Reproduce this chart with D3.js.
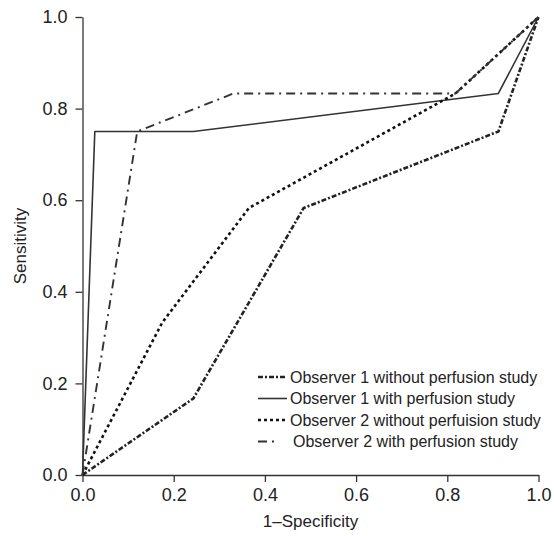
<!DOCTYPE html>
<meta charset="utf-8">
<head>
  <meta charset="utf-8">
  <title>ROC curves</title>
  <script src="https://d3js.org/d3.v7.min.js"></script>
  <style>
    body { margin: 0; background: #fff; }
    svg { display: block; font-family: "Liberation Sans", Arial, sans-serif; }
    .axis path, .axis line { stroke: #333; stroke-width: 1.3; }
    .axis text { font-size: 18px; fill: #222; }
    .legend text { font-size: 16px; fill: #222; }
  </style>
</head>
<body>
<div id="chart"></div>
<script>

// data
var seriesNames = ["Observer 1 without perfusion study",
                   "Observer 1 with perfusion study",
                   "Observer 2 without perfuision study",
                   "Observer 2 with perfusion study"];

var obs1WithoutX = [0, 0.243, 0.485, 0.912, 1];
var obs1WithoutY = [0, 0.167, 0.583, 0.75, 1];

var obs1WithX = [0, 0.027, 0.243, 0.912, 1];
var obs1WithY = [0, 0.75, 0.75, 0.833, 1];

var obs2WithoutX = [0, 0.175, 0.365, 0.818, 1];
var obs2WithoutY = [0, 0.333, 0.583, 0.833, 1];

var obs2WithX = [0, 0.12, 0.331, 0.818, 1];
var obs2WithY = [0, 0.75, 0.833, 0.833, 1];

var tickValues = [0, 0.2, 0.4, 0.6, 0.8, 1.0];

// line styles per series
var styles = [
  {width: 2.6, dash: "5,2,2,2", color: "#222"},
  {width: 1.6, dash: null, color: "#333"},
  {width: 2.6, dash: "3,3", color: "#111"},
  {width: 1.9, dash: "9,5,2,5", color: "#333"}
];

var margin = {top: 17, right: 15.5, bottom: 61, left: 82.5},
    width = 554 - margin.left - margin.right,
    height = 536 - margin.top - margin.bottom;

var svg = d3.select("#chart")
  .append("svg")
    .attr("width", 554)
    .attr("height", 536)
  .append("g")
    .attr("transform", "translate(" + margin.left + "," + margin.top + ")");

var x = d3.scaleLinear().domain([0, 1]).range([0, width]);
var y = d3.scaleLinear().domain([0, 1]).range([height, 0]);

svg.append("g")
  .attr("class", "axis")
  .attr("transform", "translate(0," + height + ")")
  .call(d3.axisBottom(x).tickValues(tickValues).tickFormat(d3.format(".1f"))
        .tickSize(7).tickSizeOuter(0).tickPadding(6));

svg.append("g")
  .attr("class", "axis")
  .call(d3.axisLeft(y).tickValues(tickValues).tickFormat(d3.format(".1f"))
        .tickSize(7).tickSizeOuter(0).tickPadding(8));

// axis titles
svg.append("text")
  .attr("text-anchor", "middle")
  .attr("x", width / 2)
  .attr("y", height + 52)
  .style("font-size", "17px")
  .style("fill", "#222")
  .text("1\u2013Specificity");

svg.append("text")
  .attr("text-anchor", "middle")
  .attr("transform", "rotate(-90)")
  .attr("x", -height / 2)
  .attr("y", -margin.left + 26)
  .style("font-size", "17px")
  .style("fill", "#222")
  .text("Sensitivity");

var series = [
  d3.zip(obs1WithoutX, obs1WithoutY),
  d3.zip(obs1WithX, obs1WithY),
  d3.zip(obs2WithoutX, obs2WithoutY),
  d3.zip(obs2WithX, obs2WithY)
];

var line = d3.line()
  .x(function(d) { return x(d[0]); })
  .y(function(d) { return y(d[1]); });

svg.selectAll(".roc")
  .data(series)
  .enter()
  .append("path")
    .attr("class", "roc")
    .attr("d", line)
    .attr("fill", "none")
    .attr("stroke", function(d, i) { return styles[i].color; })
    .attr("stroke-width", function(d, i) { return styles[i].width; })
    .attr("stroke-dasharray", function(d, i) { return styles[i].dash; })
    .attr("stroke-linejoin", "round");

// legend
var legend = svg.append("g")
  .attr("class", "legend")
  .attr("transform", "translate(" + (258 - margin.left) + "," + (377 - margin.top) + ")");

var rows = legend.selectAll("g")
  .data(seriesNames)
  .enter()
  .append("g")
    .attr("transform", function(d, i) { return "translate(0," + (i * 21.5) + ")"; });

rows.append("line")
  .attr("x1", 0)
  .attr("x2", function(d, i) { return i == 3 ? 20 : 29; })
  .attr("y1", 0)
  .attr("y2", 0)
  .attr("stroke", function(d, i) { return styles[i].color; })
  .attr("stroke-width", function(d, i) { return styles[i].width; })
  .attr("stroke-dasharray", function(d, i) { return styles[i].dash; });

rows.append("text")
  .attr("x", function(d, i) { return i == 3 ? 35 : 32; })
  .attr("y", 0)
  .attr("dy", "0.35em")
  .text(function(d) { return d; });

</script>
</body>
